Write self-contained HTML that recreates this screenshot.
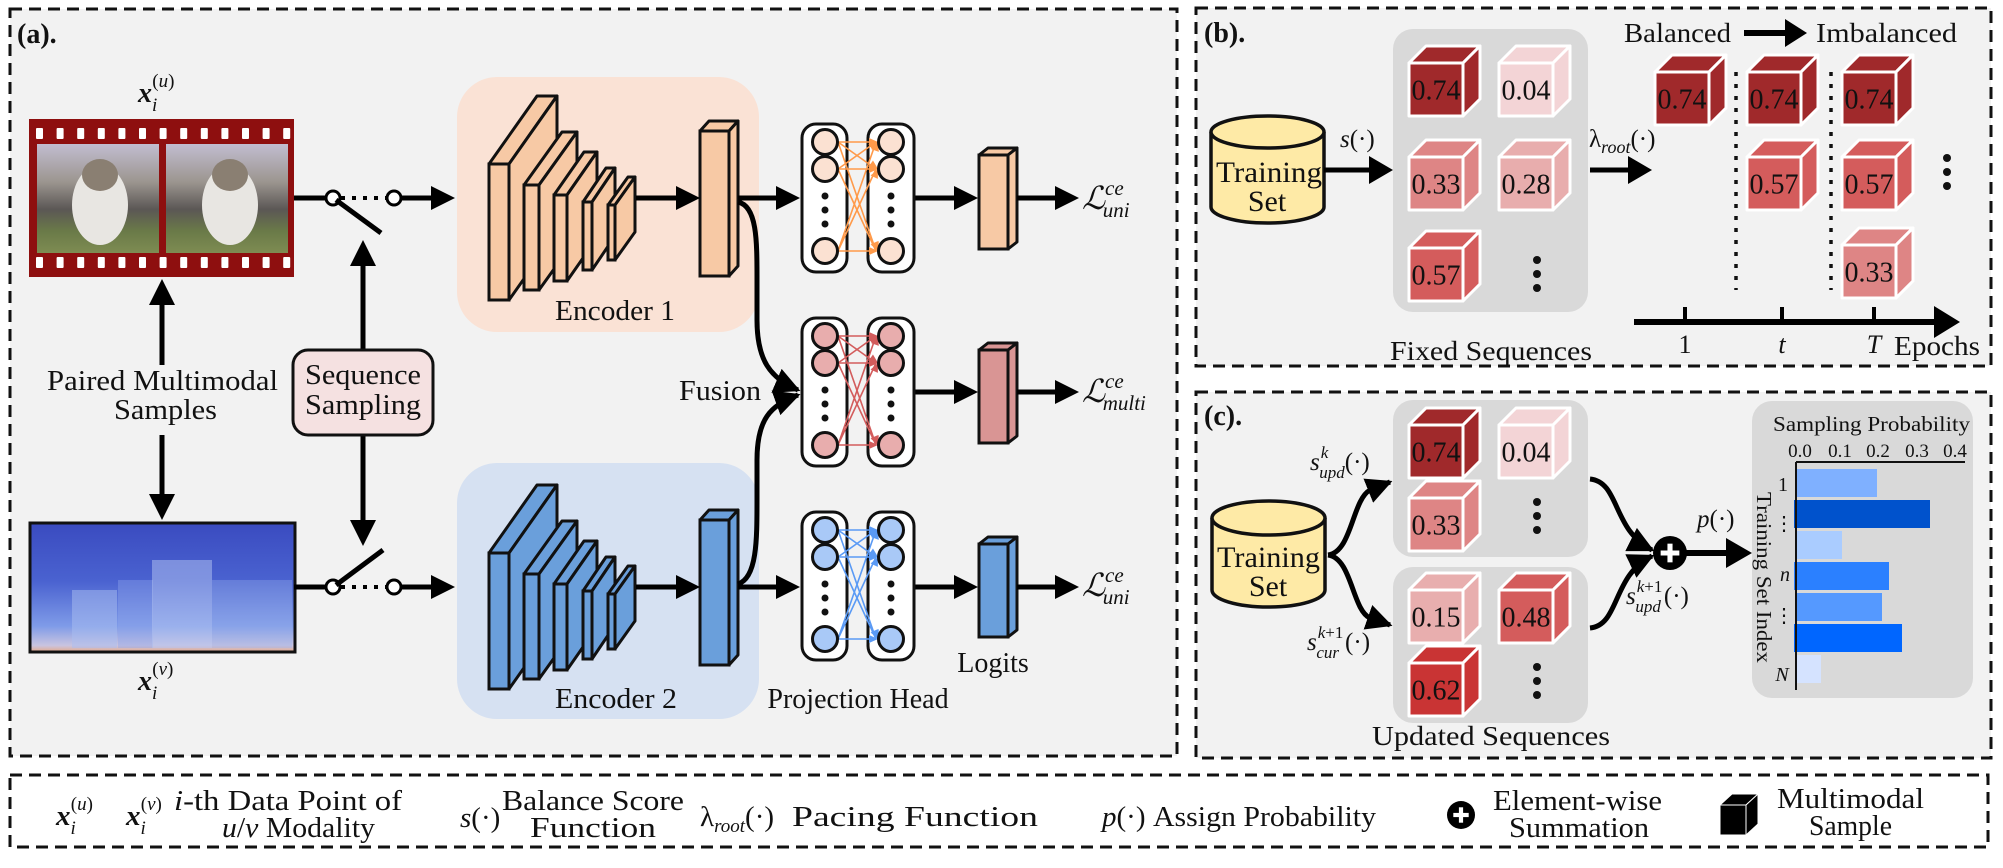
<!DOCTYPE html>
<html><head><meta charset="utf-8">
<style>
html,body{margin:0;padding:0;background:#fff;}
svg{display:block;}
text{font-family:"Liberation Serif","DejaVu Serif",serif;fill:#111;}
.it{font-style:italic;}
.bi{font-style:italic;font-weight:bold;}
</style></head>
<body>
<svg xmlns="http://www.w3.org/2000/svg" width="2003" height="868" viewBox="0 0 2003 868">
<defs>
<marker id="ah" viewBox="0 0 10 10" refX="9" refY="5" markerWidth="26" markerHeight="26" markerUnits="userSpaceOnUse" orient="auto"><path d="M0,0 L10,5 L0,10 z" fill="#000"/></marker>
<linearGradient id="spec" x1="0" y1="0" x2="0" y2="1">
<stop offset="0" stop-color="#3a4bc0"/><stop offset="0.45" stop-color="#4a62d0"/><stop offset="0.8" stop-color="#7f9be8"/><stop offset="0.95" stop-color="#c9c4e0"/><stop offset="1" stop-color="#e6a989"/></linearGradient>
<linearGradient id="cat" x1="0" y1="0" x2="0" y2="1">
<stop offset="0" stop-color="#c2bdd0"/><stop offset="0.35" stop-color="#9b958f"/><stop offset="0.6" stop-color="#5b5755"/><stop offset="0.8" stop-color="#6a7a48"/><stop offset="1" stop-color="#7e8c52"/></linearGradient>
</defs>
<rect x="10" y="9" width="1167" height="747" fill="#f2f2f2" stroke="#111" stroke-width="3" stroke-dasharray="12,7"/>
<rect x="1196" y="8" width="795" height="358" fill="#f2f2f2" stroke="#111" stroke-width="3" stroke-dasharray="12,7"/>
<rect x="1196" y="392" width="795" height="366" fill="#f2f2f2" stroke="#111" stroke-width="3" stroke-dasharray="12,7"/>
<rect x="10" y="775" width="1978" height="72" fill="#fff" stroke="#111" stroke-width="3" stroke-dasharray="12,7"/>
<rect x="457" y="77" width="302" height="255" rx="40" fill="#fae2d5"/>
<rect x="457" y="463" width="302" height="256" rx="40" fill="#d6e1f2"/>
<rect x="1393" y="29" width="195" height="283" rx="20" fill="#d9d9d9"/>
<rect x="1393" y="400" width="195" height="157" rx="20" fill="#d9d9d9"/>
<rect x="1393" y="567" width="195" height="156" rx="20" fill="#d9d9d9"/>
<rect x="1752" y="401" width="221" height="297" rx="20" fill="#d9d9d9"/>
<rect x="29" y="119" width="265" height="158" fill="#8e0f0f"/>
<rect x="37" y="144" width="122" height="109" fill="url(#cat)"/>
<rect x="166" y="144" width="122" height="109" fill="url(#cat)"/>
<ellipse cx="100" cy="205" rx="28" ry="40" fill="#e8e6e2"/><ellipse cx="100" cy="175" rx="18" ry="16" fill="#8a7f72"/>
<ellipse cx="230" cy="205" rx="28" ry="40" fill="#e8e6e2"/><ellipse cx="230" cy="175" rx="18" ry="16" fill="#8a7f72"/>
<rect x="30" y="523" width="265" height="129" fill="url(#spec)" stroke="#111" stroke-width="3"/>
<rect x="72" y="590" width="45" height="58" fill="#a9bdf0" opacity="0.5"/>
<rect x="118" y="580" width="35" height="68" fill="#8ea6ea" opacity="0.4"/>
<rect x="152" y="560" width="60" height="88" fill="#b6c6f2" opacity="0.5"/>
<rect x="212" y="580" width="80" height="68" fill="#9bb1ec" opacity="0.35"/>
<g id="g"></g>
<rect x="1796" y="469" width="81" height="28" fill="#7fb0ff"/>
<rect x="1794" y="500" width="136" height="28" fill="#0052cc"/>
<rect x="1796" y="531" width="46" height="28" fill="#aaccff"/>
<rect x="1794" y="562" width="95" height="28" fill="#2b80ff"/>
<rect x="1796" y="593" width="86" height="28" fill="#5599ff"/>
<rect x="1794" y="624" width="108" height="28" fill="#0066ff"/>
<rect x="1796" y="655" width="25" height="28" fill="#d5e3ff"/>
<line x1="1796" y1="462" x2="1965" y2="462" stroke="#111" stroke-width="2"/>
<line x1="1796" y1="462" x2="1796" y2="690" stroke="#111" stroke-width="2"/>

<text x="17" y="43" font-size="28" font-weight="bold">(a).</text>
<text x="138" y="102" font-size="28"><tspan class="bi">x</tspan><tspan class="it" font-size="19" dy="9">i</tspan><tspan font-size="19" dx="-5" dy="-24">(</tspan><tspan class="it" font-size="19">u</tspan><tspan font-size="19">)</tspan></text>
<text x="138" y="690" font-size="28"><tspan class="bi">x</tspan><tspan class="it" font-size="19" dy="9">i</tspan><tspan font-size="19" dx="-5" dy="-24">(</tspan><tspan class="it" font-size="19">v</tspan><tspan font-size="19">)</tspan></text>
<text x="47" y="390" font-size="28" textLength="231" lengthAdjust="spacingAndGlyphs">Paired Multimodal</text>
<text x="114" y="419" font-size="28" textLength="103" lengthAdjust="spacingAndGlyphs">Samples</text>
<rect x="293" y="350" width="140" height="85" rx="15" fill="#f5e1e1" stroke="#111" stroke-width="3"/>
<text x="305" y="384" font-size="28" textLength="116" lengthAdjust="spacingAndGlyphs">Sequence</text>
<text x="305" y="414" font-size="28" textLength="116" lengthAdjust="spacingAndGlyphs">Sampling</text>
<text x="555" y="320" font-size="28" textLength="120" lengthAdjust="spacingAndGlyphs">Encoder 1</text>
<text x="555" y="708" font-size="28" textLength="122" lengthAdjust="spacingAndGlyphs">Encoder 2</text>
<text x="679" y="400" font-size="28" textLength="82" lengthAdjust="spacingAndGlyphs">Fusion</text>
<text x="993" y="672" font-size="28" text-anchor="middle">Logits</text>
<text x="858" y="708" font-size="28" text-anchor="middle">Projection Head</text>
<text x="1082" y="209" font-size="32" class="it">ℒ<tspan font-size="21" dy="-14">ce</tspan><tspan font-size="21" dx="-21" dy="22">uni</tspan></text>
<text x="1082" y="402" font-size="32" class="it">ℒ<tspan font-size="21" dy="-14">ce</tspan><tspan font-size="21" dx="-21" dy="22">multi</tspan></text>
<text x="1082" y="596" font-size="32" class="it">ℒ<tspan font-size="21" dy="-14">ce</tspan><tspan font-size="21" dx="-21" dy="22">uni</tspan></text>

<text x="1204" y="42" font-size="28" font-weight="bold">(b).</text>
<text x="1216" y="182" font-size="30" textLength="106" lengthAdjust="spacingAndGlyphs">Training</text>
<text x="1267" y="211" font-size="30" text-anchor="middle">Set</text>
<text x="1340" y="147" font-size="25"><tspan class="it">s</tspan>(·)</text>
<text x="1589" y="147" font-size="25"><tspan>λ</tspan><tspan class="it" font-size="18" dy="6">root</tspan><tspan dy="-6">(·)</tspan></text>
<text x="1624" y="42" font-size="27" textLength="107" lengthAdjust="spacingAndGlyphs">Balanced</text>
<text x="1816" y="42" font-size="27" textLength="141" lengthAdjust="spacingAndGlyphs">Imbalanced</text>
<text x="1685" y="353" font-size="26" text-anchor="middle">1</text>
<text x="1782" y="353" font-size="26" text-anchor="middle" class="it">t</text>
<text x="1874" y="353" font-size="26" text-anchor="middle" class="it">T</text>
<text x="1894" y="355" font-size="27" textLength="86" lengthAdjust="spacingAndGlyphs">Epochs</text>
<text x="1390" y="360" font-size="27" textLength="202" lengthAdjust="spacingAndGlyphs">Fixed Sequences</text>

<text x="1204" y="425" font-size="28" font-weight="bold">(c).</text>
<text x="1217" y="567" font-size="30" textLength="103" lengthAdjust="spacingAndGlyphs">Training</text>
<text x="1268" y="596" font-size="30" text-anchor="middle">Set</text>
<text x="1310" y="470" font-size="25"><tspan class="it">s</tspan><tspan class="it" font-size="17" dx="1" dy="-12">k</tspan><tspan class="it" font-size="17" dx="-9" dy="20">upd</tspan><tspan dy="-8">(·)</tspan></text>
<text x="1307" y="650" font-size="25"><tspan class="it">s</tspan><tspan class="it" font-size="17" dx="1" dy="-12">k</tspan><tspan font-size="17">+1</tspan><tspan class="it" font-size="17" dx="-27" dy="20">cur</tspan><tspan dy="-8" dx="6">(·)</tspan></text>
<text x="1626" y="604" font-size="25"><tspan class="it">s</tspan><tspan class="it" font-size="17" dx="1" dy="-12">k</tspan><tspan font-size="17">+1</tspan><tspan class="it" font-size="17" dx="-27" dy="20">upd</tspan><tspan dy="-8" dx="3">(·)</tspan></text>
<text x="1697" y="527" font-size="25"><tspan class="it">p</tspan>(·)</text>
<text x="1372" y="745" font-size="27" textLength="238" lengthAdjust="spacingAndGlyphs">Updated Sequences</text>
<text x="1773" y="431" font-size="21" textLength="197" lengthAdjust="spacingAndGlyphs">Sampling Probability</text>
<text font-size="19" text-anchor="middle" y="457"><tspan x="1800">0.0</tspan><tspan x="1840">0.1</tspan><tspan x="1878">0.2</tspan><tspan x="1917">0.3</tspan><tspan x="1955">0.4</tspan></text>
<text x="1783" y="491" font-size="20" text-anchor="middle">1</text>
<text x="1784" y="530" font-size="20" text-anchor="middle">⋮</text>
<text x="1785" y="581" font-size="20" text-anchor="middle" class="it">n</text>
<text x="1784" y="622" font-size="20" text-anchor="middle">⋮</text>
<text x="1782" y="681" font-size="20" text-anchor="middle" class="it">N</text>
<text x="-85" y="0" font-size="21" textLength="171" lengthAdjust="spacingAndGlyphs" transform="translate(1757,577) rotate(90)">Training Set Index</text>

<!-- legend -->
<text x="56" y="825" font-size="29"><tspan class="bi">x</tspan><tspan class="it" font-size="19" dy="9">i</tspan><tspan font-size="19" dx="-5" dy="-24">(</tspan><tspan class="it" font-size="19">u</tspan><tspan font-size="19">)</tspan></text>
<text x="126" y="825" font-size="29"><tspan class="bi">x</tspan><tspan class="it" font-size="19" dy="9">i</tspan><tspan font-size="19" dx="-5" dy="-24">(</tspan><tspan class="it" font-size="19">v</tspan><tspan font-size="19">)</tspan></text>
<text x="174" y="810" font-size="29" textLength="228" lengthAdjust="spacingAndGlyphs"><tspan class="it">i</tspan>-th Data Point of</text>
<text x="222" y="837" font-size="29" textLength="153" lengthAdjust="spacingAndGlyphs"><tspan class="it">u</tspan>/<tspan class="it">v</tspan> Modality</text>
<text x="460" y="827" font-size="29"><tspan class="it">s</tspan>(·)</text>
<text x="502" y="810" font-size="29" textLength="182" lengthAdjust="spacingAndGlyphs">Balance Score</text>
<text x="530" y="837" font-size="29" textLength="126" lengthAdjust="spacingAndGlyphs">Function</text>
<text x="700" y="826" font-size="29"><tspan>λ</tspan><tspan class="it" font-size="19" dy="6">root</tspan><tspan dy="-6">(·)</tspan></text>
<text x="792" y="826" font-size="29" textLength="246" lengthAdjust="spacingAndGlyphs">Pacing Function</text>
<text x="1102" y="826" font-size="29"><tspan class="it">p</tspan>(·)</text>
<text x="1153" y="826" font-size="29" textLength="223" lengthAdjust="spacingAndGlyphs">Assign Probability</text>
<text x="1493" y="810" font-size="29" textLength="169" lengthAdjust="spacingAndGlyphs">Element-wise</text>
<text x="1509" y="837" font-size="29" textLength="140" lengthAdjust="spacingAndGlyphs">Summation</text>
<text x="1777" y="808" font-size="29" textLength="147" lengthAdjust="spacingAndGlyphs">Multimodal</text>
<text x="1809" y="835" font-size="29" textLength="83" lengthAdjust="spacingAndGlyphs">Sample</text>

<g id="top"></g>
<script>
(function(){
const S='http://www.w3.org/2000/svg';
let g=document.getElementById('g');
function el(t,a,p){const e=document.createElementNS(S,t);for(const k in a)e.setAttribute(k,a[k]);(p||g).appendChild(e);return e;}
function arrow(x1,y1,x2,y2,hl,hw,w){hl=hl||24;hw=hw||12;w=w||5;const dx=x2-x1,dy=y2-y1,L=Math.hypot(dx,dy),ux=dx/L,uy=dy/L;const bx=x2-ux*hl,by=y2-uy*hl;
el('line',{x1:x1,y1:y1,x2:bx+ux*2,y2:by+uy*2,stroke:'#000','stroke-width':w});
el('polygon',{points:x2+','+y2+' '+(bx-uy*hw)+','+(by+ux*hw)+' '+(bx+uy*hw)+','+(by-ux*hw),fill:'#000'});}
for(let i=0;i<13;i++){const x=36+i*20.6;el('rect',{x:x,y:128,width:7,height:11,fill:'#fff',rx:1});el('rect',{x:x,y:257,width:7,height:11,fill:'#fff',rx:1});}
el('rect',{x:159,y:144,width:7,height:109,fill:'#8e0f0f'});
function slab(x,w,yt,yb,dx,dy,c,sw){sw=sw||3;
el('polygon',{points:`${x},${yt} ${x+dx},${yt+dy} ${x+w+dx},${yt+dy} ${x+w},${yt}`,fill:c,stroke:'#111','stroke-width':sw,'stroke-linejoin':'round'});
el('polygon',{points:`${x+w},${yt} ${x+w+dx},${yt+dy} ${x+w+dx},${yb+dy} ${x+w},${yb}`,fill:c,stroke:'#111','stroke-width':sw,'stroke-linejoin':'round'});
el('rect',{x:x,y:yt,width:w,height:yb-yt,fill:c,stroke:'#111','stroke-width':sw});}
const S5=[[489,20,164,300,48,-68],[524,15,185,290,38,-53],[554,13,195,281,30,-43],[583,9,202,270,23,-34],[608,7,205,260,20,-28]];
[[0,'#f7c9a5'],[389,'#6a9fdb']].forEach(([o,c])=>{
 S5.forEach(s=>slab(s[0],s[1],s[2]+o,s[3]+o,s[4],s[5],c));
 slab(700,29,131+o,276+o,9,-10,c);
});
slab(979,29,155,249,9,-7,'#f7c9a5');
slab(979,29,350,443,9,-7,'#d99594');
slab(979,29,544,637,9,-7,'#6a9fdb');
[198,587].forEach(y=>{
 el('line',{x1:294,y1:y,x2:326,y2:y,stroke:'#000','stroke-width':5});
 el('line',{x1:341,y1:y,x2:388,y2:y,stroke:'#000','stroke-width':4,'stroke-dasharray':'4,7'});
 arrow(401,y,455,y);
 el('circle',{cx:333,cy:y,r:7,fill:'#fff',stroke:'#000','stroke-width':3});
 el('circle',{cx:394,cy:y,r:7,fill:'#fff',stroke:'#000','stroke-width':3});
 arrow(636,y,700,y);arrow(738,y,800,y);arrow(914,y,978,y);arrow(1017,y,1079,y);
});
el('line',{x1:336,y1:200,x2:381,y2:233,stroke:'#000','stroke-width':5});
el('line',{x1:336,y1:585,x2:383,y2:550,stroke:'#000','stroke-width':5});
arrow(914,392,978,392);arrow(1017,392,1079,392);
arrow(363,350,363,240,26,13);arrow(363,435,363,546,26,13);
arrow(162,365,162,279,26,13);arrow(162,435,162,520,26,13);
el('path',{d:'M738,202 C757,206 757,240 757,280 L757,320 C757,360 770,378 798,390',fill:'none',stroke:'#000','stroke-width':5,'marker-end':'url(#ah)'});
el('path',{d:'M738,584 C757,578 757,540 757,500 L757,460 C757,420 770,405 798,395',fill:'none',stroke:'#000','stroke-width':5,'marker-end':'url(#ah)'});
const NN=[[0,'#fbe1d2','#ff9a4a'],[194,'#e8adad','#d35c5c'],[388,'#a9c9f7','#5a9af5']];
NN.forEach(([o,fc,lc])=>{
 el('rect',{x:802,y:124+o,width:45,height:148,rx:14,fill:'#fff',stroke:'#111','stroke-width':3});
 el('rect',{x:868,y:124+o,width:46,height:148,rx:14,fill:'#fff',stroke:'#111','stroke-width':3});
 const ys=[142,169,251].map(v=>v+o);
 ys.forEach(a=>ys.forEach(b=>{
   el('line',{x1:838,y1:a,x2:876,y2:b,stroke:lc,'stroke-width':1.6});
   const dx=38,dy=b-a,L=Math.hypot(dx,dy),ux=dx/L,uy=dy/L,bx=878-ux*9,by=b-uy*9;
   el('polygon',{points:`878,${b} ${bx-uy*4},${by+ux*4} ${bx+uy*4},${by-ux*4}`,fill:lc});
 }));
 ys.forEach(y=>{el('circle',{cx:825,cy:y,r:12.5,fill:fc,stroke:'#111','stroke-width':3});el('circle',{cx:891,cy:y,r:12.5,fill:fc,stroke:'#111','stroke-width':3});});
 [196,210,224].forEach(y=>{el('circle',{cx:825,cy:y+o,r:3.5,fill:'#111'});el('circle',{cx:891,cy:y+o,r:3.5,fill:'#111'});});
});
function cyl(x1,x2,yt,yb,ry){const cx=(x1+x2)/2,rx=(x2-x1)/2;
 el('path',{d:`M${x1},${yt} L${x1},${yb} A${rx},${ry} 0 0 0 ${x2},${yb} L${x2},${yt}`,fill:'#feeaa6',stroke:'#111','stroke-width':3.5});
 el('ellipse',{cx:cx,cy:yt,rx:rx,ry:ry,fill:'#feeaa6',stroke:'#111','stroke-width':3.5});}
cyl(1211,1324,132,207,16);cyl(1212,1325,518,590,17);
const col={'0.74':'#a0292b','0.04':'#f3d4d6','0.33':'#de8585','0.28':'#e8adad','0.57':'#d45c5c','0.15':'#e8aeae','0.48':'#d45c5c','0.62':'#c93434'};
const tg=document.getElementById('top');
function cube(x,y,v){const w=54,h=53,d=17,c=col[v];
 const a={fill:c,stroke:'#fff','stroke-width':3,'stroke-linejoin':'round'};
 el('polygon',Object.assign({points:`${x},${y} ${x+d},${y-d} ${x+w+d},${y-d} ${x+w},${y}`},a));
 el('polygon',Object.assign({points:`${x+w},${y} ${x+w+d},${y-d} ${x+w+d},${y+h-d} ${x+w},${y+h}`},a));
 el('rect',Object.assign({x:x,y:y,width:w,height:h},a));
 const t=el('text',{x:x+w/2,y:y+h/2+10,'font-size':28,'text-anchor':'middle'},tg);t.textContent=v;}
cube(1409,63,'0.74');cube(1499,63,'0.04');cube(1409,157,'0.33');cube(1499,157,'0.28');cube(1409,248,'0.57');
cube(1655,72,'0.74');cube(1747,72,'0.74');cube(1747,157,'0.57');cube(1842,72,'0.74');cube(1842,157,'0.57');cube(1842,245,'0.33');
cube(1409,425,'0.74');cube(1499,425,'0.04');cube(1409,498,'0.33');
cube(1409,590,'0.15');cube(1499,590,'0.48');cube(1409,663,'0.62');
[[1537,260],[1947,158],[1537,502],[1537,667]].forEach(([x,y])=>{for(let i=0;i<3;i++)el('circle',{cx:x,cy:y+i*14,r:4,fill:'#111'});});
arrow(1324,170,1393,170,24,14);arrow(1590,170,1652,170,24,14);arrow(1744,33,1807,33,22,14,6);
arrow(1634,322,1960,322,26,16,6);
[1685,1782,1874].forEach(x=>el('line',{x1:x,y1:307,x2:x,y2:322,stroke:'#000','stroke-width':4}));
[1736,1831].forEach(x=>el('line',{x1:x,y1:72,x2:x,y2:290,stroke:'#111','stroke-width':3.5,'stroke-dasharray':'4,8'}));
el('path',{d:'M1328,555 C1352,552 1352,500 1370,490 L1390,482',fill:'none',stroke:'#000','stroke-width':5,'marker-end':'url(#ah)'});
el('path',{d:'M1328,555 C1352,558 1352,610 1370,618 L1390,625',fill:'none',stroke:'#000','stroke-width':5,'marker-end':'url(#ah)'});
el('path',{d:'M1590,479 C1620,482 1612,530 1652,550',fill:'none',stroke:'#000','stroke-width':5,'marker-end':'url(#ah)'});
el('path',{d:'M1590,628 C1620,625 1612,575 1652,556',fill:'none',stroke:'#000','stroke-width':5,'marker-end':'url(#ah)'});
arrow(1686,553,1752,553,26,15,6);
function plus(cx,cy,r){el('circle',{cx:cx,cy:cy,r:r,fill:'#000'});el('line',{x1:cx-r*0.55,y1:cy,x2:cx+r*0.55,y2:cy,stroke:'#fff','stroke-width':r*0.3});el('line',{x1:cx,y1:cy-r*0.55,x2:cx,y2:cy+r*0.55,stroke:'#fff','stroke-width':r*0.3});}
plus(1670,553,17);
plus(1461,815,14);
el('polygon',{points:'1720,805 1732,794 1758,794 1746,805',fill:'#000',stroke:'#fff','stroke-width':1});
el('polygon',{points:'1746,805 1758,794 1758,824 1746,835',fill:'#000',stroke:'#fff','stroke-width':1});
el('rect',{x:1720,y:805,width:26,height:30,fill:'#000',stroke:'#fff','stroke-width':1});
})();
</script>
</svg>
</body></html>
